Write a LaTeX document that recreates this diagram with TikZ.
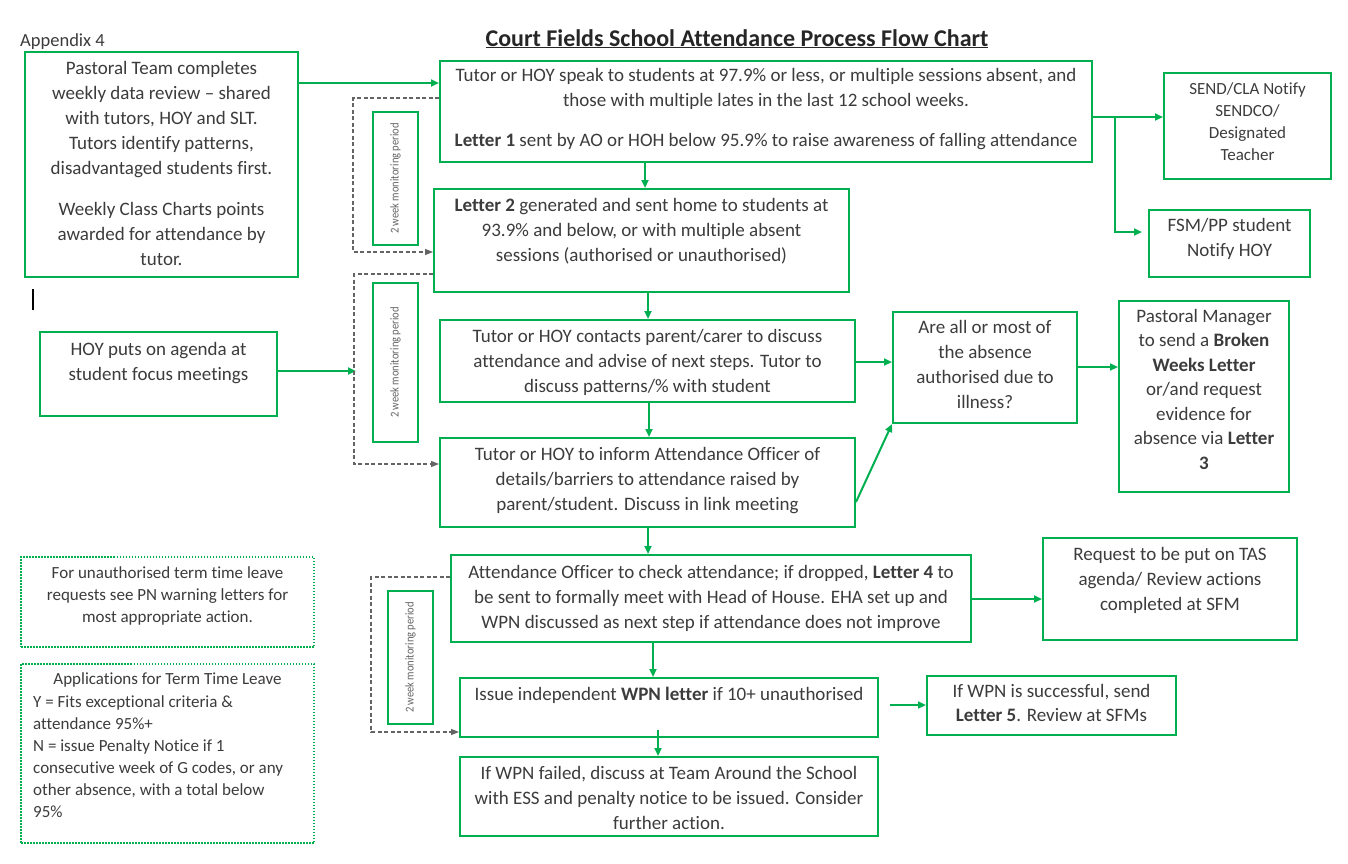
\documentclass[tikz,border=0pt]{standalone}
\usepackage{graphicx}
\usepackage{fontspec}
\setmainfont{Carlito}[Ligatures=NoCommon]
\usetikzlibrary{arrows.meta,fit}
\definecolor{grn}{RGB}{0,176,80}
\definecolor{txtc}{RGB}{60,60,60}
\definecolor{dgray}{RGB}{100,100,100}
\newcommand\monit{\scalebox{0.88}[1]{2 week monitoring period}}
\begin{document}
\begin{tikzpicture}[x=1pt,y=-1pt,
 gbox/.style={draw=grn, line width=2pt, inner sep=0pt},
 dbox/.style={draw=grn, line width=1.5pt, dash pattern=on 1.5pt off 1.5pt, inner sep=0pt},
 txt/.style={font=\fontsize{19}{25}\selectfont, text=txtc, align=center, inner sep=0pt, anchor=north},
 stxt/.style={font=\fontsize{17}{22}\selectfont, text=txtc, align=center, inner sep=0pt, anchor=north},
 rtxt/.style={font=\fontsize{12}{14}\selectfont, text=dgray, rotate=90, inner sep=0pt},
 arr/.style={draw=grn, line width=2pt, -{Triangle[length=8pt,width=7pt]}},
 dsh/.style={draw=dgray, line width=1.2pt, dash pattern=on 4pt off 2.5pt, -{Triangle[length=8pt,width=6pt]}},
]
\useasboundingbox[fill=white] (0,0) rectangle (1348,863);

% title and header
\node[font=\fontsize{24}{28}\selectfont\bfseries, text=black!85, inner sep=0pt, anchor=base] (title) at (737,46) {\underline{Court Fields School Attendance Process Flow Chart}};
\node[font=\fontsize{18.5}{20}\selectfont, text=txtc, anchor=base west, inner sep=0pt] (app) at (20,46) {Appendix 4};
\draw[line width=1.5pt, black] (33,289) -- (33,310);

% boxes
\node[gbox, fit={(25,52) (298,277)}] (A) {};
\node[gbox, fit={(440,61) (1092,162)}] (B) {};
\node[gbox, fit={(1164,73) (1331,179)}] (SEND) {};
\node[gbox, fit={(1149,210) (1310,277)}] (FSM) {};
\node[gbox, fit={(434,189) (849,292)}] (C) {};
\node[gbox, fit={(440,320) (855,402)}] (D) {};
\node[gbox, fit={(440,438) (855,527)}] (E) {};
\node[gbox, fit={(40,332) (277,416)}] (HOY) {};
\node[gbox, fit={(893,312) (1077,423)}] (Q) {};
\node[gbox, fit={(1119,301) (1289,492)}] (PM) {};
\node[gbox, fit={(451,555) (971,642)}] (F) {};
\node[gbox, fit={(1043,538) (1297,640)}] (TAS) {};
\node[gbox, fit={(460,678) (878,737)}] (G) {};
\node[gbox, fit={(927,676) (1176,735)}] (WS) {};
\node[gbox, fit={(460,757) (878,836)}] (H) {};
\node[dbox, fit={(21,557) (314,647)}] (N1) {};
\node[dbox, fit={(21,664) (314,843)}] (N2) {};
\node[gbox, fit={(373,112) (418,245)}] (M1) {};
\node[gbox, fit={(373,283) (418,442)}] (M2) {};
\node[gbox, fit={(388,591) (433,724)}] (M3) {};

% texts
\node[txt] (At) at (161.5,56.5) {\strut Pastoral Team completes\\weekly data review – shared\\with tutors, HOY and SLT.\\Tutors identify patterns,\\disadvantaged students first.\\[16pt]Weekly Class Charts points\\awarded for attendance by\\tutor.};
\node[txt] (Bt) at (766,63.5) {\strut Tutor or HOY speak to students at 97.9\% or less, or multiple sessions absent, and\\those with multiple lates in the last 12 school weeks.\\[15pt]\textbf{Letter 1} sent by AO or HOH below 95.9\% to raise awareness of falling attendance};
\node[stxt] (SENDt) at (1247.5,78.6) {\strut SEND/CLA Notify\\SENDCO/\\Designated\\Teacher};
\node[txt] (FSMt) at (1229.5,213.5) {\strut FSM/PP student\\Notify HOY};
\node[txt] (Ct) at (641.5,193.5) {\strut\textbf{Letter 2} generated and sent home to students at\\93.9\% and below, or with multiple absent\\sessions (authorised or unauthorised)};
\node[txt] (Dt) at (647.5,324.5) {\strut Tutor or HOY contacts parent/carer to discuss\\attendance and advise of next steps. Tutor to\\discuss patterns/\% with student};
\node[txt] (Et) at (647.5,442.5) {\strut Tutor or HOY to inform Attendance Officer of\\details/barriers to attendance raised by\\parent/student. Discuss in link meeting};
\node[txt] (HOYt) at (158.5,337.5) {\strut HOY puts on agenda at\\student focus meetings};
\node[txt] (Qt) at (985,315.5) {\strut Are all or most of\\the absence\\authorised due to\\illness?};
\node[txt, font=\fontsize{19}{24.5}\selectfont] (PMt) at (1204,304.9) {\strut Pastoral Manager\\to send a \textbf{Broken}\\\textbf{Weeks Letter}\\or/and request\\evidence for\\absence via \textbf{Letter}\\\textbf{3}};
\node[txt] (Ft) at (711,560.5) {\strut Attendance Officer to check attendance; if dropped, \textbf{Letter 4} to\\be sent to formally meet with Head of House. EHA set up and\\WPN discussed as next step if attendance does not improve};
\node[txt] (TASt) at (1170,542.5) {\strut Request to be put on TAS\\agenda/ Review actions\\completed at SFM};
\node[txt] (Gt) at (669,682.5) {\strut Issue independent \textbf{WPN letter} if 10+ unauthorised};
\node[txt, font=\fontsize{19}{24}\selectfont] (WSt) at (1051.5,680.2) {\strut If WPN is successful, send\\\textbf{Letter 5}. Review at SFMs};
\node[txt] (Ht) at (669,761.5) {\strut If WPN failed, discuss at Team Around the School\\with ESS and penalty notice to be issued. Consider\\further action.};
\node[stxt] (N1t) at (167.5,562.6) {\strut For unauthorised term time leave\\requests see PN warning letters for\\most appropriate action.};
\node[stxt] (N2h) at (167.5,668.6) {\strut Applications for Term Time Leave};
\node[stxt, align=left, anchor=north west] (N2t) at (33,691.6) {\strut Y = Fits exceptional criteria \&\\attendance 95\%+\\N = issue Penalty Notice if 1\\consecutive week of G codes, or any\\other absence, with a total below\\95\%};
\node[rtxt] (M1t) at (M1.center) {\monit};
\node[rtxt] (M2t) at (M2.center) {\monit};
\node[rtxt] (M3t) at (M3.center) {\monit};

% green connectors
\draw[arr] (A.east |- 0,83) -- (B.west |- 0,83);
\draw[arr] (B.south -| 645,0) -- (C.north -| 645,0);
\coordinate (j1) at (1115,117);
\draw[arr] (B.east |- j1) -- (SEND.west |- j1);
\draw[arr] (j1) |- ([xshift=-6pt]FSM.west |- 0,232);
\draw[arr] (C.south -| 648,0) -- (D.north -| 648,0);
\draw[arr] (D.east |- 0,362) -- (Q.west |- 0,362);
\draw[arr] (D.south -| 649,0) -- (E.north -| 649,0);
\draw[arr] (E.east |- 0,502) -- (Q.south west);
\draw[arr] (Q.east |- 0,367) -- (PM.west |- 0,367);
\coordinate (h1) at (356,371);
\draw[arr] (HOY.east |- h1) -- (h1);
\draw[arr] (E.south -| 648,0) -- (F.north -| 648,0);
\draw[arr] (F.east |- 0,599) -- (TAS.west |- 0,599);
\draw[arr] (F.south -| 653,0) -- (G.north -| 653,0);
\coordinate (w1) at (890,705);
\draw[arr] (w1) -- (WS.west |- w1);
\coordinate (w2) at (658,730);
\draw[arr] (w2) -- (H.north -| w2);

% dashed monitoring connectors
\coordinate (d1a) at (353,98); \coordinate (d1b) at (353,252);
\draw[dsh] (B.west |- d1a) -- (d1a) -- (d1b) -- (C.west |- d1b);
\coordinate (d2a) at (354,274); \coordinate (d2b) at (354,464);
\draw[dsh] (C.west |- d2a) -- (d2a) -- (d2b) -- (E.west |- d2b);
\coordinate (d3a) at (371,577); \coordinate (d3b) at (371,732);
\draw[dsh] (F.west |- d3a) -- (d3a) -- (d3b) -- (G.west |- d3b);
\end{tikzpicture}
\end{document}
